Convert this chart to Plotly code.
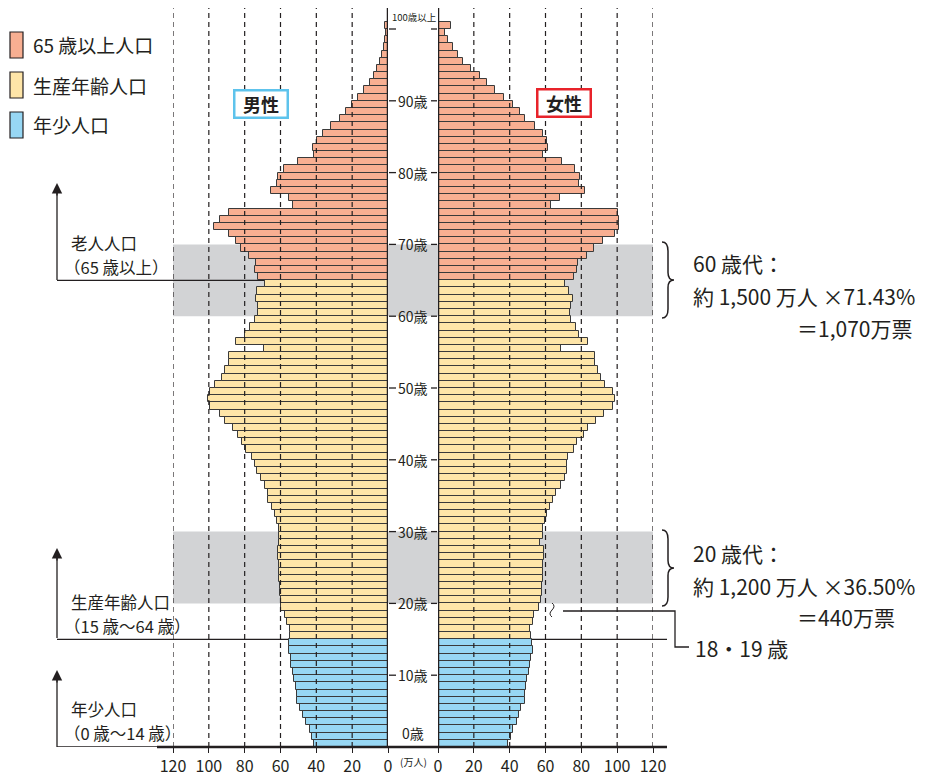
import plotly.graph_objects as go

# ---------------- data (万人) ----------------
ages = list(range(0, 101))  # 100 = 100歳以上
male = [41.3, 42.2, 43.3, 45.8, 47.2, 49.1, 50.6, 50.8, 51.5, 52.3,
        53.2, 54.1, 54.3, 55.1, 55.1, 54.5, 54.5, 56.4, 57.7, 59.5,
        59.7, 60.1, 60.3, 60.8, 60.8, 61.0, 61.4, 61.6, 60.8, 61.0,
        60.8, 61.8, 63.2, 64.9, 66.8, 67.0, 68.4, 71.0, 72.9, 74.0,
        75.9, 79.2, 81.5, 84.0, 86.3, 90.8, 93.9, 99.1, 100.4, 99.1,
        96.5, 92.6, 91.0, 88.9, 88.9, 69.0, 85.0, 79.6, 77.0, 74.0,
        72.7, 72.7, 73.5, 72.9, 68.8, 72.7, 74.0, 73.7, 77.4, 82.0,
        84.8, 89.0, 97.0, 94.0, 89.0, 53.2, 55.0, 65.5, 61.8, 61.2,
        58.0, 50.0, 41.3, 41.7, 39.8, 36.5, 31.6, 26.8, 23.4, 20.0,
        16.7, 13.4, 10.0, 7.8, 6.0, 4.5, 3.2, 2.4, 1.6, 1.0, 1.5]
female = [39.2, 40.7, 42.0, 43.9, 45.4, 46.5, 48.4, 48.7, 49.3, 49.7,
          50.8, 51.5, 52.1, 53.0, 52.5, 51.9, 51.5, 53.2, 53.6, 56.4,
          57.7, 58.0, 58.2, 58.8, 58.8, 58.8, 59.3, 59.0, 57.1, 58.8,
          58.8, 59.5, 61.0, 62.7, 64.2, 65.7, 68.6, 71.0, 72.0, 72.0,
          72.7, 76.1, 77.7, 81.3, 83.7, 88.0, 92.6, 97.7, 98.8, 97.5,
          93.4, 91.1, 89.5, 87.8, 87.8, 68.8, 83.7, 78.9, 76.8, 74.0,
          73.5, 74.0, 75.5, 73.3, 71.0, 75.7, 77.7, 78.3, 83.1, 87.3,
          92.3, 98.8, 100.8, 101.2, 100.3, 63.2, 68.0, 82.0, 78.9, 79.4,
          76.6, 69.0, 58.8, 61.2, 60.6, 58.8, 53.9, 48.6, 45.8, 41.7,
          36.8, 31.6, 27.5, 23.4, 18.2, 14.1, 11.2, 8.6, 5.8, 4.1, 7.4]
x_ticks = [0, 20, 40, 60, 80, 100, 120]
age_ticks = [10, 20, 30, 40, 50, 60, 70, 80, 90]
legend_labels = ["65 歳以上人口", "生産年齢人口", "年少人口"]

# ---------------- styling ----------------
W, H = 932, 778
C_OLD, C_WORK, C_YOUNG = "#F8AF92", "#FEE5A8", "#97D7F4"
C_GRAY = "#D2D3D5"
C_INK = "#231F20"
FONT = "Noto Sans CJK JP"

def col(a):
    return C_YOUNG if a < 15 else (C_WORK if a < 65 else C_OLD)

colors = [col(a) for a in ages]

# page offset compensation (reference pixel -> figure pixel; page body margin)
OFFX, OFFY = 8, 8

def px(x):
    return (x - OFFX) / W

def py(y):
    return 1 - (y - OFFY) / H

Y_BOT, Y_TOP = 747, 8
PX_PER_YEAR = 7.18
M_L, M_R = 173, 388
F_L, F_R = 438, 653
Y_MAX = (Y_BOT - Y_TOP) / PX_PER_YEAR

fig = go.Figure()
bar_line = dict(color="#3A3A3A", width=1)
fig.add_trace(go.Bar(x=male, y=[a + 0.5 for a in ages], orientation="h", width=1,
                     marker=dict(color=colors, line=bar_line),
                     xaxis="x", yaxis="y", showlegend=False, hoverinfo="skip"))
fig.add_trace(go.Bar(x=female, y=[a + 0.5 for a in ages], orientation="h", width=1,
                     marker=dict(color=colors, line=bar_line),
                     xaxis="x2", yaxis="y", showlegend=False, hoverinfo="skip"))

axis_common = dict(tickvals=x_ticks, ticktext=[str(v) for v in x_ticks],
                   ticks="outside", ticklen=5, tickwidth=1.2, tickcolor=C_INK,
                   showgrid=False, zeroline=False, showline=False, automargin=False,
                   tickfont=dict(family=FONT, size=16, color=C_INK), fixedrange=True)
fig.update_layout(
    width=W, height=H, margin=dict(l=0, r=0, t=0, b=0, autoexpand=False),
    paper_bgcolor="white", plot_bgcolor="rgba(0,0,0,0)",
    bargap=0, barmode="overlay", showlegend=False,
    xaxis=dict(domain=[px(M_L), px(M_R)], range=[120, 0], anchor="y", **axis_common),
    xaxis2=dict(domain=[px(F_L), px(F_R)], range=[0, 120], anchor="y", **axis_common),
    yaxis=dict(domain=[py(Y_BOT), py(Y_TOP)], range=[0, Y_MAX], visible=False,
               automargin=False, fixedrange=True),
    font=dict(family=FONT, color=C_INK),
)

shapes = []
for a0 in (20, 60):
    shapes.append(dict(type="rect", xref="paper", yref="y", x0=px(M_L), x1=px(F_R),
                       y0=a0, y1=a0 + 10, fillcolor=C_GRAY, line=dict(width=0), layer="below"))
line_k = dict(color=C_INK, width=1.3)
shapes.append(dict(type="line", xref="paper", yref="y", x0=px(57), x1=px(M_R), y0=65, y1=65,
                   line=line_k, layer="below"))
shapes.append(dict(type="line", xref="paper", yref="y", x0=px(57), x1=px(M_R), y0=15, y1=15,
                   line=line_k, layer="below"))
shapes.append(dict(type="line", xref="paper", yref="y", x0=px(F_L), x1=px(667), y0=15, y1=15,
                   line=line_k, layer="below"))
shapes.append(dict(type="line", xref="paper", yref="y", x0=px(57), x1=px(M_R), y0=0, y1=0,
                   line=line_k, layer="below"))
for ytip, ybase in ((190, 280), (555, 638), (677, 747)):
    shapes.append(dict(type="line", xref="paper", yref="paper", x0=px(57), x1=px(57),
                       y0=py(ytip), y1=py(ybase), line=line_k))
for v in x_ticks[1:]:
    for xr in ("x", "x2"):
        shapes.append(dict(type="line", xref=xr, yref="paper", x0=v, x1=v,
                           y0=py(Y_BOT), y1=py(8),
                           line=dict(color=C_INK, width=1.2, dash="5px,4px"), layer="above"))
for xr in ("x", "x2"):
    shapes.append(dict(type="line", xref=xr, yref="paper", x0=0, x1=0,
                       y0=py(Y_BOT), y1=py(Y_TOP), line=dict(color=C_INK, width=2.5)))
shapes.append(dict(type="line", xref="paper", yref="paper", x0=px(157), x1=px(667),
                   y0=py(Y_BOT), y1=py(Y_BOT), line=dict(color=C_INK, width=2.5)))
for a in age_ticks + [100]:
    shapes.append(dict(type="line", xref="paper", yref="y", x0=px(389), x1=px(396),
                       y0=a, y1=a, line=dict(color=C_INK, width=1.3)))
    shapes.append(dict(type="line", xref="paper", yref="y", x0=px(431), x1=px(437),
                       y0=a, y1=a, line=dict(color=C_INK, width=1.3)))

def brace(xl, xr_, ytop, ybot):
    ym = (ytop + ybot) / 2
    xm = (xl + xr_) / 2
    h = ybot - ytop
    pts = [
        f"M{px(xl)},{py(ytop)}",
        f"Q{px(xm)},{py(ytop)} {px(xm)},{py(ytop + h * 0.12)}",
        f"L{px(xm)},{py(ym - h * 0.1)}",
        f"Q{px(xm)},{py(ym)} {px(xr_)},{py(ym)}",
        f"Q{px(xm)},{py(ym)} {px(xm)},{py(ym + h * 0.1)}",
        f"L{px(xm)},{py(ybot - h * 0.12)}",
        f"Q{px(xm)},{py(ybot)} {px(xl)},{py(ybot)}",
    ]
    return dict(type="path", xref="paper", yref="paper", path=" ".join(pts),
                line=dict(color=C_INK, width=1.5))

shapes.append(brace(662, 674, 242, 318))
shapes.append(brace(662, 674, 530, 606))
sq = (f"M{px(552)},{py(603)} Q{px(556)},{py(606)} {px(552)},{py(610)} "
      f"Q{px(548)},{py(614)} {px(552)},{py(617)}")
shapes.append(dict(type="path", xref="paper", yref="paper", path=sq,
                   line=dict(color=C_INK, width=1)))
shapes.append(dict(type="path", xref="paper", yref="paper",
                   path=f"M{px(563)},{py(611)} L{px(675)},{py(611)} L{px(675)},{py(647)} L{px(689)},{py(647)}",
                   line=dict(color=C_INK, width=1.3)))
for i, c in enumerate([C_OLD, C_WORK, C_YOUNG]):
    yc = 45 + 40 * i
    shapes.append(dict(type="rect", xref="paper", yref="paper", x0=px(10), x1=px(23),
                       y0=py(yc - 13), y1=py(yc + 13), fillcolor=c,
                       line=dict(color=C_INK, width=1.2)))
fig.update_layout(shapes=shapes)

ann = []
def text(x, y, s, size, xanchor="left", yref="paper", **kw):
    ann.append(dict(x=px(x), y=(py(y) if yref == "paper" else y), xref="paper", yref=yref,
                    text=s, showarrow=False, xanchor=xanchor, yanchor="middle",
                    font=dict(family=FONT, size=size, color=C_INK), **kw))

for i, s in enumerate(legend_labels):
    text(31, 45 + 40 * i, s, 19)

for a in age_ticks:
    text(413, a, f"{a}歳", 14, xanchor="center", yref="y")
text(413, 733, "0歳", 14, xanchor="center")
text(414, 17, "100歳以上", 9.5, xanchor="center")
text(413, 761, "(万人)", 10, xanchor="center")

# gender labels
text(261, 104, "<b>男性</b>", 18, xanchor="center", width=49, height=23,
     bordercolor="#5EC3EC", borderwidth=2.5, borderpad=1, bgcolor="white")
text(564, 103, "<b>女性</b>", 18, xanchor="center", width=49, height=23,
     bordercolor="#E8232A", borderwidth=2.5, borderpad=1, bgcolor="white")

# left notes
text(69, 243, "老人人口", 16.5, height=20)
text(62, 267, "（65 歳以上）", 16.5, height=20)
text(69, 602, "生産年齢人口", 16.5, height=20)
text(62, 626, "（15 歳〜64 歳）", 16.5, height=20)
text(69, 709, "年少人口", 16.5, height=20)
text(62, 733, "（0 歳〜14 歳）", 16.5, height=20)
for ytip in (183, 548, 670):
    ann.append(dict(x=px(57), y=py(ytip), xref="paper", yref="paper", text="",
                    showarrow=True, ax=0, ay=14, arrowhead=2, arrowsize=1.6,
                    arrowwidth=1.3, arrowcolor=C_INK, standoff=0))

# right notes
text(691, 263, "60 歳代：", 21)
text(691, 296, "約 1,500 万人 ×71.43%", 21)
text(795, 328, "＝1,070万票", 21)
text(691, 553, "20 歳代：", 21)
text(691, 586, "約 1,200 万人 ×36.50%", 21)
text(795, 617, "＝440万票", 21)
text(693, 648, "18・19 歳", 21)

fig.update_layout(annotations=ann)
fig.write_html("out.html")
